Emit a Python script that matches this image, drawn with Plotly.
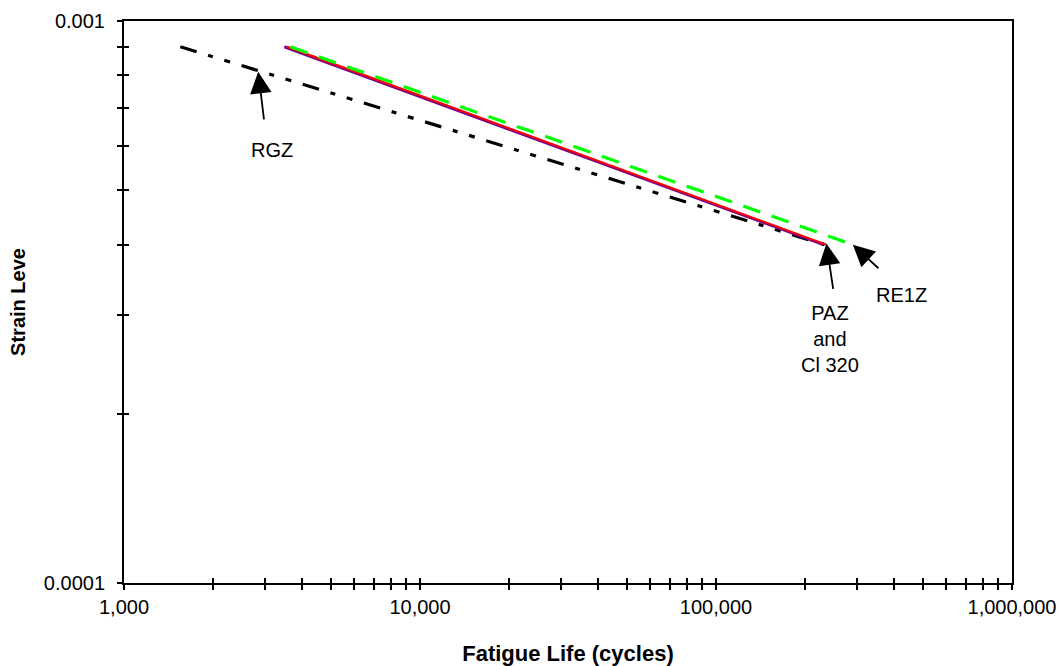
import math
import plotly.graph_objects as go

# ---- data ----
strain = [0.0009, 0.0004]
rgz_cycles = [1550, 233000]
paz_cycles = [3480, 231000]
cl320_cycles = [3560, 236000]
re1z_cycles = [3650, 290000]

x_major = [1000, 10000, 100000, 1000000]
x_major_text = ["1,000", "10,000", "100,000", "1,000,000"]
x_minor = [m * d for d in (1000, 10000, 100000) for m in range(2, 10)]
y_major = [0.0001, 0.001]
y_major_text = ["0.0001", "0.001"]
y_minor = [m * 0.0001 for m in range(2, 10)]

FONT = "Arial, Liberation Sans, sans-serif"

fig = go.Figure()
fig.add_trace(go.Scatter(x=rgz_cycles, y=strain, mode="lines", name="RGZ",
                         line=dict(color="black", width=3.2, dash="17px,12px,5px,12px,6px,12px")))
fig.add_trace(go.Scatter(x=paz_cycles, y=strain, mode="lines", name="PAZ",
                         line=dict(color="#800080", width=3)))
fig.add_trace(go.Scatter(x=cl320_cycles, y=strain, mode="lines", name="Cl 320",
                         line=dict(color="#FF0000", width=2)))
fig.add_trace(go.Scatter(x=re1z_cycles, y=strain, mode="lines", name="RE1Z",
                         line=dict(color="#00FF00", width=3.2, dash="18px,12px")))
# empty trace to register the overlay axes used for the crossing ticks
fig.add_trace(go.Scatter(x=[], y=[], xaxis="x2", yaxis="y2", showlegend=False, hoverinfo="skip"))

L = math.log10

arrow = dict(showarrow=True, arrowhead=2, arrowsize=2.4, arrowwidth=1.8,
             arrowcolor="black", text="", xref="x", yref="y")
txt = dict(showarrow=False, xref="x", yref="y", font=dict(family=FONT, size=20, color="black"))

annotations = [
    dict(arrow, x=L(2840), y=L(0.000812), ax=6, ay=49),
    dict(txt, x=L(3167), y=L(0.000590), text="RGZ"),
    dict(arrow, x=L(236000), y=L(0.000402), ax=7, ay=47),
    dict(txt, x=L(242300), y=L(0.000272), text="PAZ<br>and<br>Cl 320"),
    dict(arrow, x=L(290000), y=L(0.0004), ax=27, ay=25),
    dict(txt, x=L(424600), y=L(0.0003254), text="RE1Z"),
]

axis_common = dict(type="log", showgrid=False, zeroline=False, automargin=False)
tick_style = dict(ticklen=5, tickwidth=1.5, tickcolor="black")

fig.update_layout(
    width=1060, height=666,
    margin=dict(l=124, r=48, t=21, b=83),
    paper_bgcolor="white", plot_bgcolor="white",
    showlegend=False,
    font=dict(family=FONT, size=20, color="black"),
    annotations=annotations,
    xaxis=dict(axis_common, range=[3, 6], showline=True, linecolor="black", linewidth=2, mirror=True,
               tickmode="array", tickvals=x_major, ticktext=x_major_text,
               ticks="outside", **tick_style,
               ticklabelstandoff=0,
               minor=dict(tickmode="array", tickvals=x_minor, ticks="outside",
                          showgrid=False, **tick_style),
               title=dict(text="<b>Fatigue Life (cycles)</b>", standoff=33,
                          font=dict(family=FONT, size=22, color="black"))),
    yaxis=dict(axis_common, range=[-4, -3], showline=True, linecolor="black", linewidth=2, mirror=True,
               tickmode="array", tickvals=y_major, ticktext=y_major_text,
               ticks="outside", **tick_style,
               ticklabelstandoff=8,
               minor=dict(tickmode="array", tickvals=y_minor, ticks="outside",
                          showgrid=False, **tick_style),
               title=dict(text="<b>Strain Leve</b>", standoff=13,
                          font=dict(family=FONT, size=20, color="black"))),
    xaxis2=dict(axis_common, range=[3, 6], overlaying="x", anchor="y", side="bottom",
                showline=False, showticklabels=False,
                tickmode="array", tickvals=x_major, ticks="inside", **tick_style,
                minor=dict(tickmode="array", tickvals=x_minor, ticks="inside",
                           showgrid=False, **tick_style)),
    yaxis2=dict(axis_common, range=[-4, -3], overlaying="y", anchor="x", side="left",
                showline=False, showticklabels=False,
                tickmode="array", tickvals=y_major, ticks="inside", **tick_style,
                minor=dict(tickmode="array", tickvals=y_minor, ticks="inside",
                           showgrid=False, **tick_style)),
)

fig.write_html("out.html")
